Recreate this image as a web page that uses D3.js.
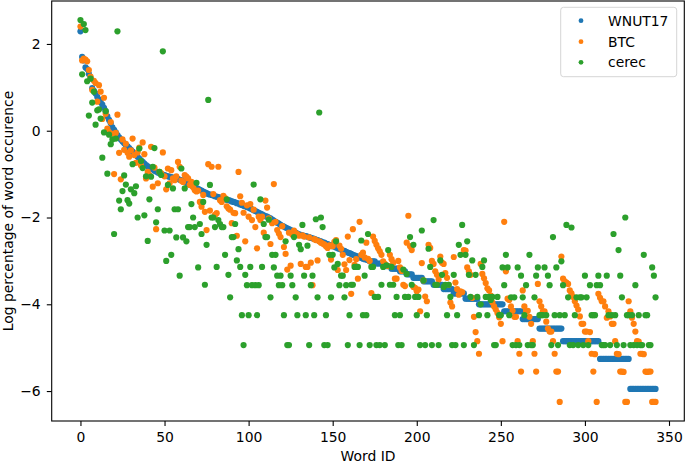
<!DOCTYPE html>
<html><head><meta charset="utf-8">
<script src="https://cdn.jsdelivr.net/npm/d3@7"></script>
<style>
body{margin:0;background:#fff}
text{font-family:"DejaVu Sans",sans-serif}
</style>
</head><body>
<svg id="chart" width="685" height="463"></svg>
<script>
const seriesNames = ["WNUT17", "BTC", "cerec"];
const seriesColors = ["#1f77b4", "#ff7f0e", "#2ca02c"];
const xTickValues = [0, 50, 100, 150, 200, 250, 300, 350];
const yTickValues = [-6, -4, -2, 0, 2];
const xLabel = "Word ID";
const yLabel = "Log percentage of word occurence";

const wnut17 = [
2.29,1.70,1.62,1.46,1.42,1.31,1.22,0.98,0.92,0.86,0.78,0.72,0.66,0.60,0.53,0.45,0.33,0.25,0.17,0.08,0.02,
-0.04,-0.10,-0.15,-0.20,-0.25,-0.29,-0.33,-0.36,-0.40,-0.44,-0.48,-0.52,-0.56,-0.60,-0.64,-0.68,-0.72,-0.76,
-0.79,-0.82,-0.85,-0.87,-0.89,-0.92,-0.94,-0.96,-0.98,-1.00,-1.01,-1.02,
-1.04,-1.05,-1.06,-1.07,-1.08,-1.09,-1.10,-1.11,-1.13,-1.14,
-1.16,-1.18,-1.20,-1.22,-1.24,-1.26,-1.28,-1.30,-1.32,-1.34,
-1.36,-1.38,-1.40,-1.42,-1.44,-1.46,-1.47,-1.48,-1.49,-1.51,-1.52,
-1.53,-1.54,-1.56,-1.57,-1.58,-1.59,-1.60,-1.61,-1.63,-1.64,
-1.65,-1.67,-1.68,-1.70,-1.71,-1.73,-1.74,-1.76,-1.77,-1.79,
-1.81,-1.83,-1.85,-1.87,-1.89,-1.91,-1.93,-1.95,-1.97,-1.98,
-2.00,-2.02,-2.05,-2.07,-2.10,-2.12,-2.14,-2.17,-2.19,-2.21,
-2.23,-2.25,-2.27,-2.29,-2.31,-2.33,-2.35,-2.37,-2.39,-2.40,
-2.41,-2.42,-2.43,-2.44,-2.45,-2.47,-2.48,-2.49,-2.51,-2.52,
-2.54,-2.55,-2.57,-2.58,-2.60,-2.61,-2.63,-2.64,-2.66,-2.67,
-2.69,-2.71,-2.72,-2.74,-2.76,-2.77,-2.79,-2.81,-2.82,-2.84,
-2.86,-2.87,-2.89,-2.90,-2.92,-2.93,-2.95,-2.96,-2.97,-2.98,
-3.01,-3.01,-3.01,-3.01,
-3.06,-3.06,-3.06,-3.06,-3.06,
-3.12,-3.12,-3.12,-3.12,
-3.18,-3.18,-3.18,-3.18,-3.18,
-3.24,-3.24,-3.24,-3.24,
-3.31,-3.31,-3.31,-3.31,
-3.39,-3.39,-3.39,-3.39,-3.39,-3.39,
-3.47,-3.47,-3.47,-3.47,-3.47,-3.47,
-3.55,-3.55,-3.55,-3.55,-3.55,-3.55,
-3.65,-3.65,-3.65,-3.65,-3.65,-3.65,
-3.75,-3.75,-3.75,-3.75,-3.75,-3.75,-3.75,
-3.87,-3.87,-3.87,-3.87,-3.87,-3.87,-3.87,-3.87,
-4.00,-4.00,-4.00,-4.00,-4.00,-4.00,-4.00,-4.00,-4.00,-4.00,-4.00,-4.00,-4.00,-4.00,-4.00,
-4.16,-4.16,-4.16,-4.16,-4.16,-4.16,-4.16,-4.16,-4.16,-4.16,-4.16,
-4.34,-4.34,-4.34,-4.34,-4.34,-4.34,-4.34,-4.34,-4.34,-4.34,
-4.56,-4.56,-4.56,-4.56,-4.56,-4.56,-4.56,-4.56,-4.56,-4.56,-4.56,-4.56,-4.56,-4.56,
-4.85,-4.85,-4.85,-4.85,-4.85,-4.85,-4.85,-4.85,-4.85,-4.85,-4.85,-4.85,-4.85,-4.85,-4.85,-4.85,-4.85,-4.85,-4.85,-4.85,-4.85,-4.85,
-5.26,-5.26,-5.26,-5.26,-5.26,-5.26,-5.26,-5.26,-5.26,-5.26,-5.26,-5.26,-5.26,-5.26,-5.26,-5.26,-5.26,-5.26,
-5.95,-5.95,-5.95,-5.95,-5.95,-5.95,-5.95,-5.95,-5.95,-5.95,-5.95,-5.95,-5.95,-5.95,-5.95,-5.95
];

const btc = [
2.40,1.62,1.66,1.64,1.60,1.40,1.25,0.94,1.15,1.10,
0.67,1.05,0.90,0.27,0.76,0.39,0.05,-0.03,0.20,-0.07,
-1.00,-0.05,0.37,-0.51,-1.12,-0.20,-0.44,-0.30,-0.51,-0.60,
-0.45,-0.18,-0.56,-0.74,-0.50,-0.39,-0.80,-0.27,-0.54,-1.10,
-0.95,-1.02,-0.37,-1.29,-0.85,-2.27,-1.21,-0.95,-0.98,-0.50,
-1.05,-1.35,-0.87,-1.21,-0.91,-1.10,-1.14,-1.05,-0.72,-0.83,
-1.15,-1.18,-1.02,-1.06,-1.10,-1.25,-1.18,-1.30,-1.37,-1.40,
-1.38,-1.64,-1.75,-1.48,-1.87,-2.29,-0.77,-1.84,-0.83,-1.46,
-1.94,-1.90,-0.83,-1.60,-1.64,-1.50,-1.55,-1.74,-1.79,-1.82,
-2.13,-1.89,-1.90,-2.42,-0.95,-1.51,-1.66,-1.89,-2.55,-1.72,
-1.98,-1.69,-2.06,-1.82,-2.22,-2.71,-1.98,-2.06,-1.98,-2.35,
-1.61,-1.77,-2.02,-2.61,-2.13,-1.23,-2.10,-2.29,-2.37,-2.45,
-2.20,-2.68,-2.84,-3.20,-2.35,-3.11,-2.40,-2.30,-2.36,-2.38,
-2.42,-3.07,-2.41,-2.44,-3.14,-3.14,-2.46,-3.04,-3.56,-2.50,
-2.52,-2.99,-2.55,-2.58,-2.60,-2.62,-2.66,-2.70,-2.64,-2.97,
-2.66,-2.56,-2.52,-3.21,-2.65,-2.72,-2.86,-3.08,-3.21,-2.44,
-2.98,-3.76,-2.27,-3.09,-2.96,-3.41,-2.10,-2.86,-2.81,-2.92,
-2.58,-2.95,-3.00,-3.74,-2.44,-2.54,-2.63,-2.71,-2.78,-2.86,
-3.01,-3.07,-3.10,-3.12,-2.86,-2.96,-3.04,-3.41,-3.41,-3.00,
-3.15,-3.23,-3.55,-3.58,-2.58,-1.96,-2.66,-2.75,-3.60,-3.62,
-3.70,-3.66,-4.16,-3.05,-3.45,-3.82,-3.93,-2.63,-2.70,-3.00,
-3.07,-3.24,-3.32,-3.43,-2.90,-3.04,-3.07,-3.28,-3.39,-3.55,
-3.96,-4.05,-2.91,-3.50,-3.65,-3.78,-3.70,-3.72,-2.75,-2.76,
-3.15,-3.24,-3.32,-3.85,-4.29,-4.64,-4.85,-5.14,-3.07,-3.30,
-3.40,-3.51,-3.63,-3.68,-3.80,-3.96,-4.05,-4.12,-4.20,-4.30,
-4.45,-4.85,-2.10,-3.24,-3.87,-3.90,-4.05,-4.15,-4.29,-4.29,
-4.85,-5.14,-5.55,-3.68,-4.05,-4.15,-4.15,-4.29,-4.45,-4.85,
-5.14,-5.55,-3.53,-3.93,-4.05,-4.16,-4.16,-4.40,-4.56,-4.63,
-4.63,-4.85,-5.14,-5.55,-5.55,-6.25,-2.90,-3.41,-3.47,-3.50,
-3.53,-3.68,-3.75,-3.83,-3.93,-4.03,-4.12,-4.28,-4.45,-4.45,
-4.63,-4.63,-4.85,-4.64,-5.14,-5.55,-5.15,-6.25,-3.76,-3.85,
-3.93,-3.93,-4.05,-4.31,-4.16,-4.28,-4.45,-4.45,-4.85,-5.14,
-5.15,-5.55,-5.55,-5.56,-6.25,-6.25,-3.93,-4.16,-4.31,-4.45,
-4.63,-4.85,-4.86,-5.14,-5.14,-5.15,-5.55,-5.56,-5.55,-5.55,
-6.25,-6.25,-6.25
];

const cerec = [
2.55,1.30,2.46,2.32,1.14,0.35,1.20,0.65,0.90,0.14,
0.47,0.49,0.28,-0.62,-0.04,0.45,-0.99,-0.09,-0.31,-0.20,
-2.38,-0.18,2.29,-1.61,-1.81,-1.39,-1.03,-1.24,-1.60,-1.68,
-1.35,-0.77,-1.44,-1.28,-2.00,-0.41,-0.70,-0.86,-1.95,-1.05,
-2.54,-1.58,-1.06,-0.83,-0.40,-2.11,-1.81,-0.95,-1.02,1.83,
-2.30,-3.00,-1.25,-2.30,-2.86,-1.33,-1.81,-2.46,-1.81,-3.34,
-0.87,-2.46,-1.33,-2.55,-2.22,-2.22,-1.69,-2.00,-2.22,-1.20,
-3.15,-2.15,-2.38,-1.64,-3.55,-2.63,0.71,-1.25,-2.00,-2.00,
-2.22,-3.14,-2.06,-2.15,-2.22,-2.22,-2.86,-1.58,-3.32,-3.84,
-2.45,-2.45,-2.15,-2.99,-2.73,-3.14,-4.25,-4.94,-3.32,-3.56,
-4.25,-3.14,-3.56,-1.24,-3.56,-4.25,-3.56,-1.58,-3.14,-2.15,
-2.45,-2.45,-2.05,-3.84,-2.86,-3.15,-2.86,-3.34,-3.56,-3.34,
-3.56,-4.25,-2.55,-4.94,-4.94,-3.34,-3.56,-2.45,-3.84,-4.25,
-2.63,-2.73,-2.17,-3.34,-4.25,-2.65,-4.94,-3.56,-3.34,-4.25,
-2.04,-3.84,0.42,-2.00,-2.22,-4.94,-4.25,-4.94,-2.86,-3.84,
-2.86,-3.15,-2.55,-3.07,-3.56,-3.34,-3.34,-3.84,-3.56,-4.94,
-4.25,-3.55,-3.55,-3.14,-3.14,-3.14,-4.94,-2.53,-4.25,-3.34,
-4.25,-2.38,-4.94,-3.14,-3.14,-3.83,-4.94,-3.83,-4.94,-3.55,
-3.14,-4.94,-3.10,-2.75,-3.55,-3.14,-3.55,-4.25,-3.83,-4.94,
-4.25,-4.94,-3.20,-3.83,-3.30,-3.83,-2.45,-3.55,-2.63,-3.83,
-4.25,-3.83,-4.94,-2.30,-3.45,-4.94,-4.25,-2.72,-3.14,-4.94,
-2.06,-3.55,-3.55,-4.94,-2.99,-3.32,-3.60,-3.55,-4.25,-3.55,
-3.83,-4.94,-3.32,-4.94,-4.25,-2.63,-2.86,-2.17,-4.94,-2.86,
-2.55,-3.32,-3.83,-2.99,-4.94,-3.32,-3.83,-4.25,-4.00,-3.14,
-2.99,-3.83,-4.25,-3.83,-3.90,-3.83,-4.94,-4.94,-3.83,-4.25,
-4.25,-3.15,-3.56,-2.86,-3.15,-4.25,-3.84,-4.94,-3.84,-4.94,
-3.15,-4.94,-3.34,-3.84,-4.25,-3.56,-4.94,-2.86,-4.94,-4.94,
-3.84,-3.34,-3.15,-4.25,-4.25,-4.25,-3.15,-4.25,-3.34,-3.56,
-4.94,-2.45,-4.25,-3.15,-4.94,-4.25,-3.01,-3.56,-4.25,-2.17,
-3.84,-4.94,-2.23,-4.94,-4.25,-3.84,-4.94,-3.84,-3.84,-4.94,
-3.34,-3.84,-4.94,-3.56,-4.25,-4.25,-4.25,-3.56,-3.34,-3.56,
-4.94,-4.94,-4.94,-3.34,-4.25,-4.94,-4.25,-2.38,-4.25,-4.94,
-2.75,-3.34,-3.84,-4.94,-2.00,-4.25,-4.25,-4.94,-4.25,-4.94,
-3.56,-4.94,-4.25,-4.94,-4.94,-2.86,-4.25,-4.25,-4.94,-4.94,
-3.15,-3.34,-3.84
];

const seriesValues = [wnut17, btc, cerec];
const wordIds = d3.range(wnut17.length);

const W = 685, H = 463;
const plot = {left: 51.7, right: 684.3, top: 1, bottom: 421};
const svg = d3.select("#chart");

const xMin = d3.min(wordIds), xMax = d3.max(wordIds);
const xPad = (xMax - xMin) * 0.05;
const allY = seriesValues.flat();
const yMin = d3.min(allY), yMax = d3.max(allY);
const yPad = (yMax - yMin) * 0.05;

const x = d3.scaleLinear().domain([xMin - xPad, xMax + xPad]).range([plot.left, plot.right]);
const y = d3.scaleLinear().domain([yMin - yPad, yMax + yPad]).range([plot.bottom, plot.top]);

const fs = 13.9;

// points
seriesValues.forEach((vals, si) => {
  svg.append("g").selectAll("circle")
    .data(wordIds)
    .join("circle")
    .attr("cx", d => x(d))
    .attr("cy", d => y(vals[d]))
    .attr("r", 3.1)
    .attr("fill", seriesColors[si]);
});

// axes
const xAxis = d3.axisBottom(x).tickValues(xTickValues).tickSize(4.9).tickSizeOuter(0).tickPadding(6.7)
  .tickFormat(d3.format("d"));
const gx = svg.append("g").attr("transform", `translate(0,${plot.bottom})`).call(xAxis);
const yAxis = d3.axisLeft(y).tickValues(yTickValues).tickSize(4.9).tickSizeOuter(0).tickPadding(6.1)
  .tickFormat(d3.format("d"));
const gy = svg.append("g").attr("transform", `translate(${plot.left},0)`).call(yAxis);
[gx, gy].forEach(g => {
  g.select(".domain").remove();
  g.selectAll(".tick line").attr("stroke", "#000").attr("stroke-width", 1.1);
  g.selectAll(".tick text").attr("fill", "#000").style("font-size", fs + "px")
    .style("font-family", "'DejaVu Sans', sans-serif");
});

// frame
svg.append("rect")
  .attr("x", plot.left).attr("y", plot.top)
  .attr("width", plot.right - plot.left).attr("height", plot.bottom - plot.top)
  .attr("fill", "none").attr("stroke", "#000").attr("stroke-width", 1.1);

// axis labels
svg.append("text").attr("x", (plot.left + plot.right) / 2).attr("y", 460.5)
  .attr("text-anchor", "middle").style("font-size", fs + "px").text(xLabel);
svg.append("text").attr("transform", `translate(12.5,${(plot.top + plot.bottom) / 2}) rotate(-90)`)
  .attr("text-anchor", "middle").style("font-size", fs + "px").text(yLabel);

// legend
const lg = svg.append("g");
lg.append("rect").attr("x", 560.7).attr("y", 7.3).attr("width", 116).attr("height", 69.4)
  .attr("rx", 2.8).attr("fill", "#fff").attr("fill-opacity", 0.8)
  .attr("stroke", "#d6d6d6").attr("stroke-width", 1);
const legendY = [20.7, 41.7, 62.3];
seriesNames.forEach((name, i) => {
  lg.append("circle").attr("cx", 581).attr("cy", legendY[i]).attr("r", 2.4).attr("fill", seriesColors[i]);
  lg.append("text").attr("x", 608).attr("y", legendY[i]).attr("dy", "0.36em")
    .style("font-size", fs + "px").attr("fill", "#000").text(name);
});
</script>
</body></html>
